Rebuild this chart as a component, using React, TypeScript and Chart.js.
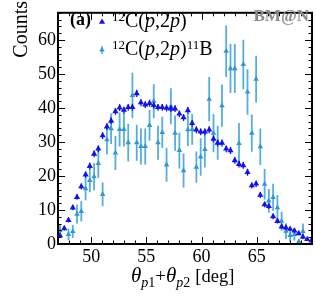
import { useEffect, useRef } from "react";
import { Chart, registerables } from "chart.js";
Chart.register(...registerables);

const X_BINS = [
  47.18, 47.57, 47.95, 48.34, 48.72, 49.11, 49.5, 49.88, 50.27, 50.65,
  51.04, 51.43, 51.81, 52.2, 52.58, 52.97, 53.36, 53.74, 54.13, 54.51,
  54.9, 55.29, 55.67, 56.06, 56.44, 56.83, 57.22, 57.6, 57.99, 58.37,
  58.76, 59.15, 59.53, 59.92, 60.3, 60.69, 61.08, 61.46, 61.85, 62.23,
  62.62, 63.01, 63.39, 63.78, 64.16, 64.55, 64.94, 65.32, 65.71, 66.09,
  66.48, 66.87, 67.25, 67.64, 68.02, 68.41, 68.8, 69.18, 69.57, 69.95,
];

const PP_COUNTS = [
  2.5, 4.6, 7.0, 10.7, 13.8, 16.9, 20.4, 22.9, 26.5, 28.0,
  31.9, 34.5, 36.2, 39.0, 40.1, 39.4, 40.2, 40.2, 44.3, 41.6,
  41.0, 41.4, 40.8, 40.2, 40.2, 40.0, 39.8, 39.8, 38.3, 37.2,
  39.3, 35.5, 33.6, 33.0, 33.0, 33.6, 30.9, 29.7, 29.7, 28.0,
  27.5, 24.6, 23.5, 23.1, 21.1, 17.2, 17.7, 14.4, 11.6, 11.1,
  8.1, 6.7, 5.1, 4.8, 4.4, 3.9, 3.1, 2.1, 1.4, 1.0,
];

const PP_ERR = [
  0.5, 0.6, 0.7, 0.8, 0.8, 0.9, 0.9, 1.0, 1.0, 1.0,
  1.0, 1.0, 1.0, 1.0, 1.0, 1.0, 1.0, 1.0, 1.1, 1.0,
  1.0, 1.0, 1.0, 1.0, 1.0, 1.0, 1.0, 1.0, 1.0, 1.0,
  1.0, 1.0, 1.0, 1.0, 1.0, 1.0, 1.0, 1.0, 1.0, 1.0,
  1.0, 1.0, 1.0, 1.0, 1.0, 0.9, 0.9, 0.9, 0.8, 0.8,
  0.8, 0.7, 0.7, 0.7, 0.6, 0.6, 0.5, 0.5, 0.5, 0.4,
];

const PP11B_COUNTS = [
  3.9, null, 2.8, 3.7, 8.8, 9.6, 16.3, 18.7, 19.8, 23.7,
  14.6, 30.7, 33.9, 26.8, 33.7, 33.7, 29.8, 43.7, 29.8, 28.7,
  28.7, 34.9, 42.0, 29.8, 32.8, 23.3, 40.5, 32.6, 27.5, 21.6,
  33.6, 33.7, 22.6, 25.6, 27.8, 42.6, 32.6, 29.8, 40.7, 56.7,
  51.6, 51.6, 29.6, 52.8, 44.7, 32.6, 48.5, 28.6, 17.6, 12.7,
  13.7, 10.7, 6.7, 3.8, 2.5, 2.8, 0.7, 3.7, null, null,
];

const PP11B_ERR = [
  1.9, 0, 1.7, 1.9, 2.8, 3.0, 3.4, 3.5, 4.0, 4.2,
  3.5, 4.4, 4.5, 5.0, 5.0, 5.0, 5.5, 6.7, 5.3, 5.3,
  5.3, 4.5, 5.0, 5.0, 4.6, 5.0, 5.3, 5.2, 5.3, 5.0,
  4.8, 4.5, 4.6, 5.5, 5.3, 6.5, 5.6, 5.0, 6.2, 7.6,
  7.2, 7.2, 6.0, 7.3, 6.7, 5.5, 6.9, 5.4, 4.5, 3.5,
  4.0, 3.7, 2.8, 2.3, 1.7, 1.8, 0.7, 2.3, 0, 0,
];

const X_TICKS = [50, 55, 60, 65];
const Y_TICKS = [0, 10, 20, 30, 40, 50, 60];
const X_MIN = 47;
const X_MAX = 70;
const Y_MIN = 0;
const Y_MAX = 68;

const DARK = "#1212ee";
const LIGHT = "#2f98d0";
const LIGHT_BAR = "#55aedd";
const SERIF = "'Liberation Serif', 'DejaVu Serif', serif";

function triangle(ctx: CanvasRenderingContext2D, x: number, y: number, r: number, color: string) {
  ctx.save();
  ctx.beginPath();
  let rad = 0;
  for (let i = 0; i < 3; i++) {
    const px = x + Math.sin(rad) * r;
    const py = y - Math.cos(rad) * r;
    if (i === 0) ctx.moveTo(px, py);
    else ctx.lineTo(px, py);
    rad += (2 * Math.PI) / 3;
  }
  ctx.closePath();
  ctx.fillStyle = color;
  ctx.fill();
  ctx.restore();
}

type Seg = { t: string; size: number; italic?: boolean; bold?: boolean; dy?: number; dx?: number };

function richText(ctx: CanvasRenderingContext2D, segs: Seg[], x: number, y: number, measureOnly = false) {
  let cx = x;
  for (const s of segs) {
    ctx.font = `${s.italic ? "italic " : ""}${s.bold ? "bold " : ""}${s.size}px ${SERIF}`;
    cx += s.dx || 0;
    if (!measureOnly) ctx.fillText(s.t, cx, y + (s.dy || 0));
    cx += ctx.measureText(s.t).width;
  }
  return cx - x;
}

const errorBarPlugin = {
  id: "errorBars",
  beforeDatasetDraw(chart: any, args: any) {
    const ds = chart.data.datasets[args.index];
    const ctx = chart.ctx as CanvasRenderingContext2D;
    const xs = chart.scales.x;
    const ys = chart.scales.y;
    const { left, right, top, bottom } = chart.chartArea;
    ctx.save();
    ctx.beginPath();
    ctx.rect(left, top, right - left, bottom - top);
    ctx.clip();
    ctx.strokeStyle = ds.barColor;
    ctx.lineWidth = ds.barWidth;
    for (const p of ds.data) {
      if (!p.e) continue;
      const px = xs.getPixelForValue(p.x);
      ctx.beginPath();
      ctx.moveTo(px, ys.getPixelForValue(p.y - p.e));
      ctx.lineTo(px, ys.getPixelForValue(p.y + p.e));
      ctx.stroke();
    }
    ctx.restore();
  },
};

const framePlugin = {
  id: "frame",
  afterDraw(chart: any) {
    const ctx = chart.ctx as CanvasRenderingContext2D;
    const xs = chart.scales.x;
    const ys = chart.scales.y;
    const { left, right, top, bottom } = chart.chartArea;
    ctx.save();
    ctx.strokeStyle = "#000";
    ctx.lineWidth = 1;
    ctx.beginPath();
    for (let v = X_MIN; v <= X_MAX; v += 1) {
      const px = Math.round(xs.getPixelForValue(v)) + 0.5;
      const len = v % 5 === 0 ? 7 : 3.5;
      ctx.moveTo(px, bottom);
      ctx.lineTo(px, bottom - len);
      ctx.moveTo(px, top);
      ctx.lineTo(px, top + len);
    }
    for (let v = Y_MIN; v <= Y_MAX; v += 2) {
      const py = Math.round(ys.getPixelForValue(v)) + 0.5;
      const len = v % 10 === 0 ? 7 : 3.5;
      ctx.moveTo(left, py);
      ctx.lineTo(left + len, py);
      ctx.moveTo(right, py);
      ctx.lineTo(right - len, py);
    }
    ctx.stroke();
    ctx.lineWidth = 2;
    ctx.strokeRect(left, top, right - left, bottom - top);

    // axis titles
    ctx.fillStyle = "#000";
    ctx.textBaseline = "alphabetic";
    ctx.save();
    ctx.translate(27, 1);
    ctx.rotate(-Math.PI / 2);
    ctx.textAlign = "right";
    ctx.font = `20px ${SERIF}`;
    ctx.fillText("Counts", 0, 0);
    ctx.restore();

    ctx.textAlign = "left";
    ctx.fillStyle = "#000";
    const xTitle: Seg[] = [
      { t: "θ", size: 21, italic: true },
      { t: "p", size: 14, italic: true, dy: 5 },
      { t: "1", size: 14, dy: 5 },
      { t: "+", size: 19 },
      { t: "θ", size: 21, italic: true },
      { t: "p", size: 14, italic: true, dy: 5 },
      { t: "2", size: 14, dy: 5 },
      { t: "[deg]", size: 18.5, dx: 5 },
    ];
    richText(ctx, xTitle, 131, 281.5, false);

    // (a)
    ctx.font = `bold 18px ${SERIF}`;
    ctx.fillText("(a)", 70, 25);

    // legend
    triangle(ctx, 102, 22, 3.6, DARK);
    ctx.fillStyle = "#000";
    richText(ctx, [
      { t: "12", size: 13, dy: -6 },
      { t: "C(", size: 20 },
      { t: "p", size: 20, italic: true },
      { t: ",2", size: 20 },
      { t: "p", size: 20, italic: true },
      { t: ")", size: 20 },
    ], 112, 27);
    ctx.strokeStyle = LIGHT_BAR;
    ctx.lineWidth = 1.5;
    ctx.beginPath();
    ctx.moveTo(102, 46);
    ctx.lineTo(102, 54);
    ctx.stroke();
    triangle(ctx, 102, 50, 3.2, LIGHT);
    ctx.fillStyle = "#000";
    richText(ctx, [
      { t: "12", size: 13, dy: -6 },
      { t: "C(", size: 20 },
      { t: "p", size: 20, italic: true },
      { t: ",2", size: 20 },
      { t: "p", size: 20, italic: true },
      { t: ")", size: 20 },
      { t: "11", size: 13, dy: -6 },
      { t: "B", size: 20 },
    ], 112, 55);

    // BM@N
    ctx.fillStyle = "#8c8c8c";
    ctx.textAlign = "right";
    ctx.font = `bold 17px 'Liberation Serif'`;
    ctx.fillText("BM@N", 309, 21);
    ctx.restore();
  },
};

export default function App() {
  const ref = useRef<HTMLCanvasElement | null>(null);
  useEffect(() => {
    if (!ref.current) return;
    const dark = X_BINS.map((x, i) => ({ x, y: PP_COUNTS[i], e: PP_ERR[i] }));
    const light = X_BINS.map((x, i) => ({ x, y: PP11B_COUNTS[i], e: PP11B_ERR[i] })).filter(
      (p) => p.y !== null
    );
    const chart = new Chart(ref.current, {
      type: "scatter",
      data: {
        datasets: [
          {
            label: "12C(p,2p)",
            data: dark,
            pointStyle: "triangle",
            pointRadius: 3.6,
            pointBackgroundColor: DARK,
            pointBorderWidth: 0,
            borderColor: DARK,
            showLine: false,
            barColor: DARK,
            barWidth: 1.3,
          } as any,
          {
            label: "12C(p,2p)11B",
            data: light,
            pointStyle: "triangle",
            pointRadius: 3.2,
            pointBackgroundColor: LIGHT,
            pointBorderWidth: 0,
            borderColor: LIGHT,
            showLine: false,
            barColor: LIGHT_BAR,
            barWidth: 1.8,
          } as any,
        ],
      },
      options: {
        animation: false,
        responsive: false,
        layout: { padding: { left: 0, right: 3, top: 0, bottom: 0 } },
        plugins: { legend: { display: false }, tooltip: { enabled: false } },
        scales: {
          x: {
            type: "linear",
            min: X_MIN,
            max: X_MAX,
            grid: { display: false, drawTicks: false },
            border: { display: false },
            ticks: {
              padding: 2,
              color: "#000",
              font: { family: SERIF, size: 18 },
              maxRotation: 0,
              autoSkip: false,
            },
            afterBuildTicks: (s: any) => {
              s.ticks = X_TICKS.map((v) => ({ value: v }));
            },
            afterFit: (s: any) => {
              s.height = 61;
            },
          },
          y: {
            type: "linear",
            min: Y_MIN,
            max: Y_MAX,
            grid: { display: false, drawTicks: false },
            border: { display: false },
            ticks: {
              padding: 2,
              color: "#000",
              font: { family: SERIF, size: 18 },
              autoSkip: false,
            },
            afterBuildTicks: (s: any) => {
              s.ticks = Y_TICKS.map((v) => ({ value: v }));
            },
            afterFit: (s: any) => {
              s.width = 58;
            },
          },
        },
      },
      plugins: [errorBarPlugin, framePlugin],
    });
    return () => chart.destroy();
  }, []);
  return (
    <div style={{ position: "fixed", left: 0, top: 0, width: 316, height: 305, background: "#fff" }}>
      <canvas ref={ref} width={316} height={305} style={{ display: "block" }} />
    </div>
  );
}
